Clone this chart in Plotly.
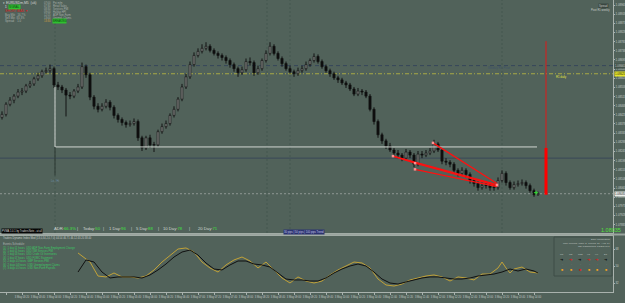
import plotly.graph_objects as go

# ---------------- data ----------------
bar_index = list(range(135))
open_ = [1.08410,1.08425,1.08475,1.08495,1.08515,1.08535,1.08540,1.08565,1.08575,1.08600,
1.08615,1.08635,1.08640,1.08650,1.08570,1.08560,1.08545,1.08520,1.08515,1.08540,
1.08560,1.08660,1.08620,1.08510,1.08465,1.08450,1.08465,1.08485,1.08460,1.08420,
1.08400,1.08385,1.08375,1.08380,1.08390,1.08310,1.08260,1.08310,1.08275,1.08275,
1.08340,1.08365,1.08380,1.08420,1.08450,1.08500,1.08560,1.08610,1.08670,1.08715,
1.08735,1.08750,1.08760,1.08740,1.08725,1.08715,1.08705,1.08690,1.08670,1.08650,
1.08630,1.08645,1.08685,1.08680,1.08630,1.08650,1.08690,1.08725,1.08760,1.08725,
1.08700,1.08675,1.08650,1.08635,1.08625,1.08640,1.08650,1.08670,1.08690,1.08710,
1.08685,1.08660,1.08640,1.08625,1.08605,1.08595,1.08580,1.08570,1.08550,1.08525,
1.08540,1.08535,1.08515,1.08450,1.08390,1.08325,1.08295,1.08270,1.08250,1.08235,
1.08225,1.08210,1.08240,1.08225,1.08180,1.08230,1.08225,1.08235,1.08245,1.08280,
1.08250,1.08195,1.08190,1.08180,1.08150,1.08135,1.08150,1.08130,1.08100,1.08085,
1.08065,1.08075,1.08075,1.08065,1.08065,1.08100,1.08135,1.08090,1.08065,1.08080,
1.08085,1.08090,1.08075,1.08050,1.08030]
close = [1.08425,1.08475,1.08495,1.08515,1.08535,1.08540,1.08565,1.08575,1.08600,1.08615,
1.08635,1.08640,1.08650,1.08570,1.08560,1.08545,1.08520,1.08515,1.08540,1.08560,
1.08660,1.08620,1.08510,1.08465,1.08450,1.08465,1.08485,1.08460,1.08420,1.08400,
1.08385,1.08375,1.08380,1.08390,1.08310,1.08260,1.08310,1.08275,1.08275,1.08340,
1.08365,1.08380,1.08420,1.08450,1.08500,1.08560,1.08610,1.08670,1.08715,1.08735,
1.08750,1.08760,1.08740,1.08725,1.08715,1.08705,1.08690,1.08670,1.08650,1.08630,
1.08645,1.08685,1.08680,1.08630,1.08650,1.08690,1.08725,1.08760,1.08725,1.08700,
1.08675,1.08650,1.08635,1.08625,1.08640,1.08650,1.08670,1.08690,1.08710,1.08685,
1.08660,1.08640,1.08625,1.08605,1.08595,1.08580,1.08570,1.08550,1.08525,1.08540,
1.08535,1.08515,1.08450,1.08390,1.08325,1.08295,1.08270,1.08250,1.08235,1.08225,
1.08210,1.08240,1.08225,1.08180,1.08230,1.08225,1.08235,1.08245,1.08280,1.08250,
1.08195,1.08190,1.08180,1.08150,1.08135,1.08150,1.08130,1.08100,1.08085,1.08065,
1.08075,1.08075,1.08065,1.08065,1.08100,1.08135,1.08090,1.08065,1.08080,1.08085,
1.08090,1.08075,1.08050,1.08030,1.08035]
high = [1.08440,1.08485,1.08510,1.08525,1.08550,1.08555,1.08575,1.08590,1.08610,1.08630,
1.08645,1.08655,1.08670,1.08660,1.08585,1.08570,1.08555,1.08535,1.08550,1.08575,
1.08680,1.08670,1.08630,1.08520,1.08480,1.08480,1.08500,1.08495,1.08470,1.08430,
1.08410,1.08395,1.08395,1.08405,1.08400,1.08320,1.08320,1.08325,1.08290,1.08350,
1.08380,1.08395,1.08430,1.08465,1.08510,1.08575,1.08625,1.08685,1.08730,1.08750,
1.08770,1.08780,1.08770,1.08750,1.08735,1.08725,1.08715,1.08700,1.08680,1.08660,
1.08660,1.08700,1.08705,1.08690,1.08665,1.08700,1.08740,1.08780,1.08770,1.08735,
1.08710,1.08685,1.08665,1.08645,1.08655,1.08665,1.08685,1.08700,1.08725,1.08720,
1.08695,1.08670,1.08650,1.08635,1.08615,1.08605,1.08590,1.08580,1.08560,1.08555,
1.08550,1.08545,1.08525,1.08460,1.08400,1.08335,1.08305,1.08285,1.08260,1.08250,
1.08235,1.08255,1.08250,1.08235,1.08245,1.08245,1.08250,1.08260,1.08300,1.08290,
1.08260,1.08210,1.08200,1.08190,1.08160,1.08165,1.08160,1.08140,1.08110,1.08095,
1.08090,1.08090,1.08085,1.08080,1.08115,1.08150,1.08145,1.08100,1.08095,1.08100,
1.08105,1.08100,1.08085,1.08060,1.08045]
low = [1.08400,1.08415,1.08465,1.08480,1.08505,1.08520,1.08530,1.08555,1.08565,1.08590,
1.08605,1.08625,1.08630,1.08555,1.08545,1.08530,1.08415,1.08500,1.08505,1.08530,
1.08550,1.08605,1.08495,1.08450,1.08435,1.08440,1.08455,1.08445,1.08405,1.08385,
1.08370,1.08360,1.08365,1.08370,1.08295,1.08245,1.08250,1.08260,1.08240,1.08265,
1.08330,1.08355,1.08370,1.08410,1.08440,1.08490,1.08550,1.08600,1.08660,1.08705,
1.08725,1.08740,1.08730,1.08715,1.08700,1.08690,1.08675,1.08655,1.08635,1.08610,
1.08620,1.08635,1.08665,1.08615,1.08620,1.08640,1.08680,1.08715,1.08715,1.08690,
1.08660,1.08640,1.08625,1.08610,1.08615,1.08630,1.08640,1.08660,1.08680,1.08675,
1.08650,1.08630,1.08610,1.08595,1.08580,1.08570,1.08555,1.08540,1.08515,1.08515,
1.08520,1.08505,1.08440,1.08375,1.08310,1.08280,1.08255,1.08240,1.08220,1.08210,
1.08195,1.08200,1.08210,1.08165,1.08170,1.08210,1.08215,1.08225,1.08235,1.08240,
1.08180,1.08175,1.08165,1.08135,1.08120,1.08125,1.08115,1.08085,1.08070,1.08050,
1.08055,1.08060,1.08050,1.08050,1.08055,1.08090,1.08075,1.08055,1.08055,1.08070,
1.08075,1.08060,1.08040,1.08020,1.08025]

time_tick_bars = [1,5,9,13,17,21,25,29,33,37,41,45,49,53,57,61,65,69,73,77,81,85,89,93,97,101,105,109,113,117,121,125,129,133]
time_tick_labels = ["3 May 03:00","3 May 03:20","3 May 03:40","3 May 04:00","3 May 04:20","3 May 04:40",
"3 May 05:00","3 May 05:20","3 May 05:40","3 May 06:00","3 May 06:20","3 May 06:40","3 May 07:00",
"3 May 07:20","3 May 07:40","3 May 08:00","3 May 08:20","3 May 08:40","3 May 09:00","3 May 09:20",
"3 May 09:40","3 May 10:00","3 May 10:20","3 May 10:40","3 May 11:00","3 May 11:20","3 May 11:40",
"3 May 12:00","3 May 12:20","3 May 12:40","3 May 13:00","3 May 13:20","3 May 13:40","3 May 14:00"]

price_tick0 = 1.08963
price_tick_step = 0.00045
price_range = [1.078418, 1.089877]

osc_yellow_bars = [19,20,22,24,26,28,30,32,34,36,38,40,42,44,46,48,50,52,54,56,58,60,62,64,66,68,70,72,74,76,
78,80,82,84,86,88,90,92,94,96,98,100,102,104,106,108,110,112,114,116,118,120,122,124,125,126,127,128,130,132,134]
osc_yellow = [63.8,60.6,54.2,39.4,38.4,42.6,38.4,38.4,37.3,39.4,45.8,54.2,61.6,68.0,69.1,64.8,54.2,47.9,43.6,51.1,
56.4,59.5,55.3,47.9,54.2,45.8,37.3,32.0,38.4,34.1,32.0,34.1,40.5,45.8,50.0,54.2,53.2,47.9,36.2,29.9,
28.8,30.9,35.2,37.3,39.4,40.5,38.4,34.1,38.4,37.3,35.2,41.5,41.5,47.9,54.2,47.9,42.6,46.8,48.9,43.6,42.6]
osc_black_bars = [19,21,23,25,27,29,31,33,35,37,39,41,43,45,47,49,51,53,55,57,59,61,63,65,67,69,71,73,75,77,
79,81,83,85,87,89,91,93,95,97,99,101,103,105,107,109,111,113,115,117,119,121,123,125,127,129,131,133,134]
osc_black = [43.6,56.4,54.2,43.6,37.3,38.4,38.4,38.4,37.3,40.5,45.8,52.1,59.5,64.8,66.9,61.6,53.2,46.8,45.8,51.1,
55.3,55.3,52.1,51.1,48.9,42.6,36.2,35.2,35.2,34.1,34.1,37.3,42.6,46.8,50.0,52.1,50.0,43.6,36.2,32.0,
30.9,33.1,35.2,37.3,38.4,38.4,37.3,36.2,36.2,37.3,39.4,40.5,41.5,43.6,46.8,44.7,46.8,44.7,42.6]
osc_levels = [32, 50, 68]

level_prices = [1.08665, 1.08625, 1.08210, 1.08035]
level_labels = ["1.08665", "1.08625", "1.08210", "1.08035"]
separator_bars = [13.25, 66.25, 72, 125]

pvma_x = [13.25, 13.25, 133.75]
pvma_y = [1.08560, 1.08265, 1.08265]
stem_x = [13.25, 13.25]
stem_y = [1.08265, 1.08125]

fan_x = [97.75, 123.75, None, 103.25, 123.75, None, 103.25, 123.75, None, 107.75, 123.75, None, 97.75, 103.25]
fan_y = [1.08220, 1.08080, None, 1.08185, 1.08075, None, 1.08155, 1.08070, None, 1.08285, 1.08085, None, 1.08220, 1.08185]
fan_pts_x = [97.75, 103.25, 103.25, 107.75, 123.75]
fan_pts_y = [1.08220, 1.08185, 1.08155, 1.08285, 1.08078]

target_bar = 136
target_thin = [1.08785, 1.08260]
target_thick = [1.08260, 1.08030]

# ---------------- style ----------------
BG = "#51625a"
FRAME = "#a9b2ad"
TXT = "#c4ccc7"
FONT = "Liberation Sans"
W_PLOT, H_PLOT = 613.0, 292.0

def px(x):
    return x / W_PLOT

def py(y):
    return (H_PLOT - y) / H_PLOT

fig = go.Figure()

# candles: wicks + bodies drawn through the price axis
wick_x, wick_y = [], []
bull_x, bull_base, bull_h = [], [], []
bear_x, bear_base, bear_h = [], [], []
for i, o, h, l, c in zip(bar_index, open_, high, low, close):
    wick_x += [i, i, None]
    wick_y += [l, h, None]
    if c > o:
        bull_x.append(i); bull_base.append(o); bull_h.append(max(c - o, 0.00002))
    else:
        bear_x.append(i); bear_base.append(c); bear_h.append(max(o - c, 0.00002))

fig.add_trace(go.Scatter(x=wick_x, y=wick_y, mode="lines", line=dict(color="#121212", width=1),
                         xaxis="x", yaxis="y", hoverinfo="skip"))
fig.add_trace(go.Bar(x=bull_x, y=bull_h, base=bull_base, width=0.55,
                     marker=dict(color="#cfd3cf", line=dict(color="#121212", width=0.6)),
                     xaxis="x", yaxis="y", hoverinfo="skip"))
fig.add_trace(go.Bar(x=bear_x, y=bear_h, base=bear_base, width=0.55,
                     marker=dict(color="#0c0c0c", line=dict(color="#0c0c0c", width=0.6)),
                     xaxis="x", yaxis="y", hoverinfo="skip"))

fig.add_trace(go.Scatter(x=pvma_x, y=pvma_y, mode="lines",
    line=dict(color="#d2d6d2", width=1), xaxis="x", yaxis="y", hoverinfo="skip"))
fig.add_trace(go.Scatter(x=stem_x, y=stem_y, mode="lines",
    line=dict(color="#2c3833", width=1), xaxis="x", yaxis="y", hoverinfo="skip"))
fig.add_trace(go.Scatter(x=fan_x, y=fan_y, mode="lines",
    line=dict(color="#ff1010", width=1.3), xaxis="x", yaxis="y", hoverinfo="skip"))
fig.add_trace(go.Scatter(x=fan_pts_x, y=fan_pts_y, mode="markers",
    marker=dict(symbol="square", size=2.5, color="#ff9090"), xaxis="x", yaxis="y", hoverinfo="skip"))
fig.add_trace(go.Scatter(x=[target_bar, target_bar], y=target_thin, mode="lines",
    line=dict(color="#e01818", width=1), xaxis="x", yaxis="y", hoverinfo="skip"))
fig.add_trace(go.Scatter(x=[target_bar, target_bar], y=target_thick, mode="lines",
    line=dict(color="#ff0000", width=3), xaxis="x", yaxis="y", hoverinfo="skip"))
fig.add_trace(go.Scatter(x=[bar_index[-1] - 0.5], y=[level_prices[3] + 0.00005], mode="markers",
    marker=dict(symbol="cross-thin", size=3, line=dict(color="#30e030", width=1)),
    xaxis="x", yaxis="y", hoverinfo="skip"))

fig.add_trace(go.Scatter(x=osc_yellow_bars, y=osc_yellow, mode="lines",
    line=dict(color="#c2a238", width=1), xaxis="x2", yaxis="y2", hoverinfo="skip"))
fig.add_trace(go.Scatter(x=osc_black_bars, y=osc_black, mode="lines",
    line=dict(color="#101010", width=1), xaxis="x2", yaxis="y2", hoverinfo="skip"))

shapes = []
level_styles = [("#35465a", "4px,3px"), ("#a9aa46", "4px,2px,1px,2px"), ("#3a4858", "solid"), ("#8d9892", "2px,2px")]
for lv, (col, dash) in zip(level_prices, level_styles):
    shapes.append(dict(type="line", xref="paper", yref="y", x0=0, x1=1, y0=lv, y1=lv,
                       line=dict(color=col, width=1, dash=dash), layer="below"))
for sb in separator_bars:
    shapes.append(dict(type="line", xref="x", yref="y domain", x0=sb, x1=sb, y0=0, y1=1,
                       line=dict(color="#45564e", width=1, dash="2px,2px"), layer="below"))
shapes.append(dict(type="line", xref="paper", yref="paper", x0=0, x1=625 / W_PLOT,
                   y0=py(234.5), y1=py(234.5), line=dict(color="#9aa49e", width=2)))
shapes.append(dict(type="rect", xref="paper", yref="paper", x0=px(554), x1=px(612),
                   y0=py(276), y1=py(237), line=dict(color="#3f4c46", width=1),
                   fillcolor="rgba(0,0,0,0)"))

annotations = []

def txt(x, y, s, color=TXT, size=3.2, bg=None, xanchor="left"):
    d = dict(x=px(x), y=py(y), xref="paper", yref="paper", text=s, showarrow=False,
             xanchor=xanchor, yanchor="middle", borderpad=0,
             font=dict(size=size, color=color, family=FONT))
    if bg:
        d["bgcolor"] = bg
    annotations.append(d)

# top-left info block
txt(2, 3, "▾ EURUSDm,M5  (uk)", "#d8dcd8", 3.4)
txt(4, 7, "1", "#e8e8e8", 3.0)
txt(8, 7, "SIGNAL", "#0c4010", 2.8, bg="#2fc02f")
txt(4, 11.5, "SHORT BIAS ▼", "#d81c1c", 3.2)
txt(4, 15, "Buy Mkt   16.7%", "#a9b1ac", 2.8)
txt(4, 18, "Sell Mkt  83.3%", "#a9b1ac", 2.8)
txt(4, 21, "Spread    1.0", "#a9b1ac", 2.8)
times = ["07:00", "07:30", "08:30", "09:00", "12:15", "13:00"]
events = ["Ppi m/m", "Retail Sales", "Services PMI", "Halifax HPI", "ADP Non-Farm", "Unempl. Claims"]
for k, (t, e) in enumerate(zip(times, events)):
    txt(43, 3 + 3 * k, t, "#a9b1ac", 2.6)
    txt(52, 3 + 3 * k, e, "#a9b1ac", 2.6)
txt(43, 21, "13:30", "#d8a040", 2.6)
txt(52, 21, "BREAKING", "#0c4010", 2.6, bg="#2fc02f")

# top-right
txt(603, 5.5, "Spread", "#c8ccc8", 2.6, bg="#3b4741", xanchor="center")
txt(611, 10, "Pivot R1 weekly", "#c8ccc8", 2.6, xanchor="right")
txt(487, 68, "Weekly R1 Pivot", "#3d5268", 3.0)
txt(555, 77, "R1 daily", "#e6e640", 2.8)

# price-axis markers placed on the price axis
marker_styles = [("#c8ccc8", "#42524a"), ("#1a1a1a", "#e4e428"), None, ("#1a1a1a", "#e8ece8")]
for lv, lab, st in zip(level_prices, level_labels, marker_styles):
    if st is None:
        continue
    annotations.append(dict(x=1.002, y=lv, xref="paper", yref="y", text=lab, showarrow=False,
                            xanchor="left", yanchor="middle", borderpad=0,
                            font=dict(size=2.8, color=st[0], family=FONT), bgcolor=st[1]))

txt(50, 181, "Lo / Hi", "#6e8da4", 2.8)

# ADR line
G = "#3ee23e"
adr_parts = [(53, "ADR:<span style='color:%s'>66.3%%</span>" % G), (76, "|"),
             (82, "Today:<span style='color:%s'>50</span>" % G), (102, "|"),
             (108, "1 Day:<span style='color:%s'>96</span>" % G), (130, "|"),
             (135, "5 Day:<span style='color:%s'>88</span>" % G), (157, "|"),
             (162, "10 Day:<span style='color:%s'>78</span>" % G), (188, "|"),
             (197, "20 Day:<span style='color:%s'>71</span>" % G)]
for xx, s in adr_parts:
    txt(xx, 228, s, "#d0d6d2", 4.2)

txt(1, 231, "PVMA 1.0.1 by TradersNote - at all", "#d8d8d8", 2.6, bg="#050505")
txt(283, 231.5, "30 pips | 50 pips | 100 pips Trend", "#c8cce8", 2.7, bg="#2d3470")
txt(622, 229.5, "1.08035", "#52e03a", 5.5, xanchor="right")

# lower panel texts
txt(2, 238, "Traders Dynamic Index Mod (13,0,34,2,0,7,0) 44.54 46.71 46.12 43.20 38.00", "#c4ccc7", 2.6)
txt(2, 244, "Events Schedule:", "#b0b8b3", 2.8)
ev_rows = ["(1)  1 day 01 hours  USD ADP Non-Farm Employment Change",
           "(2)  1 day 01 hours  USD ISM Services PMI",
           "(3)  1 day 03 hours  USD Crude Oil Inventories",
           "(4)  1 day 07 hours  USD FOMC Statement",
           "(5)  2 days 01 hours  GBP Services PMI",
           "(6)  2 days 04 hours  USD Unemployment Claims",
           "(7)  3 days 01 hours  USD Non-Farm Payrolls"]
for k, s in enumerate(ev_rows):
    txt(2, 247.5 + 3.4 * k, s, "#3cc864", 2.6)

txt(611, 239.5, "Daily Momentum", "#c4ccc7", 2.5, xanchor="right")
txt(611, 243, "MTF Moving Angle: 5° Period: 10° Avg: 14", "#c4ccc7", 2.5, xanchor="right")
txt(611, 246.5, "TDI Parameters: 13/2/34/7/7", "#c4ccc7", 2.5, xanchor="right")
cols_x = [562, 571, 580, 589, 597, 606]
heads = ["M1", "M5", "M15", "H1", "H4", "D1"]
arrow_cols = ["#101010", "#e01818", "#101010", "#e01818", "#e01818", "#101010"]
sq_cols = ["#f0a020", "#f0a020", "#e01818", "#f0a020", "#f0a020", "#f0a020"]
for cx, h, ac, sc in zip(cols_x, heads, arrow_cols, sq_cols):
    txt(cx, 254, h, "#c4ccc7", 2.4, xanchor="center")
    txt(cx, 259, "➜", ac, 4.0, xanchor="center")
    txt(cx, 264.5, "•", "#62736a", 3.0, xanchor="center")
    txt(cx, 270, "■", sc, 3.6, xanchor="center")

fig.update_layout(
    width=625, height=303,
    margin=dict(l=0, r=12, t=0, b=11, autoexpand=False),
    paper_bgcolor=BG, plot_bgcolor=BG, showlegend=False, barmode="overlay",
    shapes=shapes, annotations=annotations,
    xaxis=dict(domain=[0, 1], range=[-0.5, 152.75], anchor="y", showticklabels=False,
               ticks="", showgrid=False, zeroline=False, showline=True, mirror=True,
               linecolor=FRAME, linewidth=1),
    yaxis=dict(domain=[59 / 292, 1], range=price_range, side="right", anchor="x",
               tick0=price_tick0, dtick=price_tick_step, tickformat=".5f", ticks="outside", ticklen=1,
               tickcolor=FRAME, tickfont=dict(size=2.8, color=TXT, family=FONT),
               showgrid=False, zeroline=False, showline=True, mirror=True,
               linecolor=FRAME, linewidth=1),
    xaxis2=dict(domain=[0, 1], range=[-0.5, 152.75], anchor="y2", tickvals=time_tick_bars,
                ticktext=time_tick_labels, tickangle=0, ticks="outside", ticklen=2, tickcolor=FRAME,
                tickfont=dict(size=2.6, color=TXT, family=FONT), showgrid=False,
                zeroline=False, showline=True, mirror=True, linecolor=FRAME, linewidth=1),
    yaxis2=dict(domain=[0, 56 / 292], range=[22.47, 81.76], side="right", anchor="x2",
                tickvals=osc_levels, ticks="outside", ticklen=1, tickcolor=FRAME,
                tickfont=dict(size=2.8, color=TXT, family=FONT), showgrid=False,
                zeroline=False, showline=True, mirror=True, linecolor=FRAME, linewidth=1),
)

fig.write_html("out.html")
